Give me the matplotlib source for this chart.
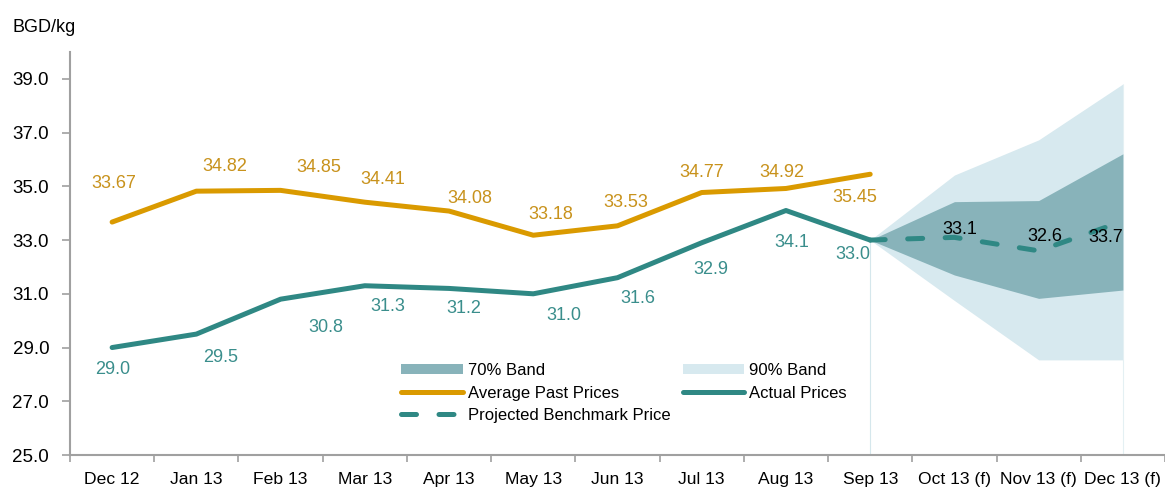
import matplotlib
matplotlib.use("Agg")
import matplotlib.pyplot as plt
from matplotlib import font_manager
from matplotlib.patches import Patch
from matplotlib.lines import Line2D

# ---------------- data ----------------
categories = ["Dec 12", "Jan 13", "Feb 13", "Mar 13", "Apr 13", "May 13", "Jun 13",
              "Jul 13", "Aug 13", "Sep 13", "Oct 13 (f)", "Nov 13 (f)", "Dec 13 (f)"]
avg_past = [33.67, 34.82, 34.85, 34.41, 34.08, 33.18, 33.53, 34.77, 34.92, 35.45]
avg_labels = ["33.67", "34.82", "34.85", "34.41", "34.08", "33.18", "33.53", "34.77", "34.92", "35.45"]
actual = [29.0, 29.5, 30.8, 31.3, 31.2, 31.0, 31.6, 32.9, 34.1, 33.0]
actual_labels = ["29.0", "29.5", "30.8", "31.3", "31.2", "31.0", "31.6", "32.9", "34.1", "33.0"]
proj_categories = ["Sep 13", "Oct 13 (f)", "Nov 13 (f)", "Dec 13 (f)"]
projected = [33.0, 33.1, 32.6, 33.7]
proj_labels = ["", "33.1", "32.6", "33.7"]
band70_low = [33.0, 31.70, 30.83, 31.14]
band70_high = [33.0, 34.43, 34.47, 36.21]
band90_low = [33.0, 30.75, 28.54, 28.54]
band90_high = [33.0, 35.42, 36.73, 38.81]
y_ticks = [25.0, 27.0, 29.0, 31.0, 33.0, 35.0, 37.0, 39.0]

# ---------------- style ----------------
avail = {f.name for f in font_manager.fontManager.ttflist}
main_font = "Liberation Sans" if "Liberation Sans" in avail else "DejaVu Sans"
narrow_font = "Liberation Sans Narrow" if "Liberation Sans Narrow" in avail else main_font
plt.rcParams["font.family"] = [main_font, "DejaVu Sans"]

GOLD = "#DA9A00"
GOLD_TXT = "#C8921C"
TEAL = "#2F8884"
TEAL_TXT = "#3A8E8C"
BAND70 = "#88B3BA"
BAND90 = "#D7E9EF"
AXIS = "#A0A0A0"

fig = plt.figure(figsize=(11.65, 4.9), dpi=100)
ax = fig.add_axes([70 / 1165, 1 - 455 / 490, 1 - 70 / 1165, (455 - 52) / 490])

x_all = list(range(len(categories)))
x_hist = x_all[:len(avg_past)]
x_proj = [categories.index(c) for c in proj_categories]

# bands
ax.fill_between(x_proj, band90_low, band90_high, color=BAND90, lw=0, zorder=1)
ax.fill_between(x_proj, band70_low, band70_high, color=BAND70, lw=0, zorder=2)
ax.vlines([x_proj[0]], 25, band90_low[0], color="#D5E7EC", lw=0.8, zorder=1)
ax.vlines([x_proj[-1]], 25, band90_high[-1], color="#E4F0F3", lw=0.8, zorder=1)

# lines
ax.plot(x_hist, avg_past, color=GOLD, lw=3.6, solid_capstyle="round", zorder=4)
ax.plot(x_hist, actual, color=TEAL, lw=3.6, solid_capstyle="round", zorder=4)
ax.plot(x_proj, projected, color=TEAL, lw=3.6, dashes=(3, 4.5),
        dash_capstyle="round", zorder=4)

# data labels (offsets in pixels: dx right, dy down)
avg_off = [(2, -39), (28, -25), (38, -23), (18, -23), (21, -13), (18, -21),
           (8, -23), (0, -20), (-4, -16), (-15, 23)]
act_off = [(1, 22), (24, 23), (45, 28), (23, 21), (15, 20), (31, 22),
           (20, 21), (9, 27), (6, 32), (-17, 14)]
proj_off = [(0, 0), (5, -8), (6, -14), (-17, 16)]

lbl_kw = dict(textcoords="offset pixels", ha="center", va="center",
              fontsize=13, family=[narrow_font, "DejaVu Sans"], zorder=6)
for xi, v, t, (dx, dy) in zip(x_hist, avg_past, avg_labels, avg_off):
    ax.annotate(t, (xi, v), xytext=(dx, -dy), color=GOLD_TXT, **lbl_kw)
for xi, v, t, (dx, dy) in zip(x_hist, actual, actual_labels, act_off):
    ax.annotate(t, (xi, v), xytext=(dx, -dy), color=TEAL_TXT, **lbl_kw)
for xi, v, t, (dx, dy) in zip(x_proj, projected, proj_labels, proj_off):
    if t:
        ax.annotate(t, (xi, v), xytext=(dx, -dy), color="black", **lbl_kw)

# axes
ax.set_xlim(-0.5, len(categories) - 0.5)
ax.set_ylim(25, 40)
ax.set_yticks(y_ticks)
ax.set_yticklabels([f"{v:.1f}" for v in y_ticks])
ax.set_xticks(x_all)
ax.set_xticklabels(categories)
ax.set_xticks([i - 0.5 for i in range(len(categories) + 1)], minor=True)
ax.tick_params(axis="x", which="major", length=0, pad=12, labelsize=12.6,
               labelcolor="black")
ax.tick_params(axis="x", which="minor", length=5, width=1.2, color=AXIS, direction="out")
ax.tick_params(axis="y", length=6, width=1.2, color=AXIS, pad=9, labelsize=13.5,
               labelcolor="black", direction="out")
for lab in ax.get_xticklabels():
    lab.set_family([narrow_font, "DejaVu Sans"])
for s in ["top", "right"]:
    ax.spines[s].set_visible(False)
for s in ["left", "bottom"]:
    ax.spines[s].set_color(AXIS)
    ax.spines[s].set_linewidth(1.5)

fig.text(12 / 1165, 1 - 27 / 490, "BGD/kg", ha="left", va="center", fontsize=13)

# legend
handles = [
    Patch(facecolor=BAND70, edgecolor="none", label="70% Band"),
    Line2D([0], [0], color=GOLD, lw=3.6, solid_capstyle="round", label="Average Past Prices"),
    Line2D([0], [0], color=TEAL, lw=3.6, dashes=(3, 4.5), dash_capstyle="round",
           label="Projected Benchmark Price"),
    Patch(facecolor=BAND90, edgecolor="none", label="90% Band"),
    Line2D([0], [0], color=TEAL, lw=3.6, solid_capstyle="round", label="Actual Prices"),
]
leg = ax.legend(handles=handles, ncol=2, frameon=False, fontsize=12,
                loc="upper left",
                bbox_to_anchor=((401 - 70) / 1095, (455 - 363) / 403),
                handlelength=3.7, handleheight=0.6, handletextpad=0.3,
                columnspacing=0.75, labelspacing=0.45, borderpad=0, borderaxespad=0)

fig.savefig("out.png", dpi=100)
